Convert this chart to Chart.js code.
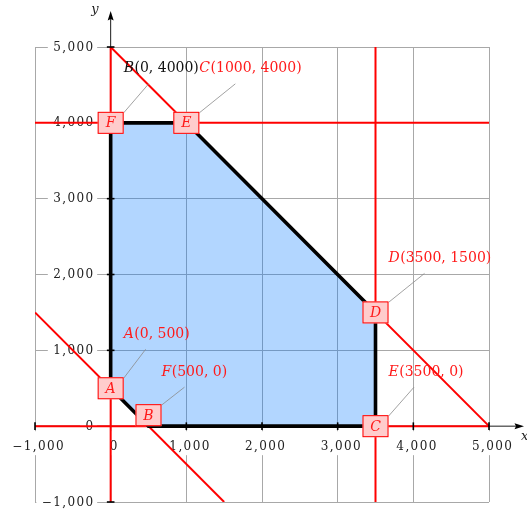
<!DOCTYPE html>
<html><head><meta charset="utf-8">
<script src="https://cdn.jsdelivr.net/npm/chart.js@4/dist/chart.umd.min.js"></script>
<style>html,body{margin:0;padding:0;background:#fff;overflow:hidden}#wrap{width:527px;height:509px;position:relative}</style>
</head><body><div id="wrap"><canvas id="c"></canvas></div>
<script>
// ---- data ----
const xTicks = [-1000, 0, 1000, 2000, 3000, 4000, 5000];
const xTickLabels = ['\u22121,000', '0', '1,000', '2,000', '3,000', '4,000', '5,000'];
const yTicks = [-1000, 0, 1000, 2000, 3000, 4000, 5000];
const yTickLabels = ['\u22121,000', '0', '1,000', '2,000', '3,000', '4,000', '5,000'];

// feasible region (closed polygon)
const regionX = [0, 0, 1000, 3500, 3500, 500, 0];
const regionY = [500, 4000, 4000, 1500, 0, 0, 500];

// constraint lines (end points)
const lineX0X = [0, 0],        lineX0Y = [-1000, 5000];
const lineX3500X = [3500, 3500], lineX3500Y = [-1000, 5000];
const lineY4000X = [-1000, 5000], lineY4000Y = [4000, 4000];
const lineY0X = [-1000, 5000],  lineY0Y = [0, 0];
const lineSum5000X = [0, 5000], lineSum5000Y = [5000, 0];
const lineSum500X = [-1000, 1500], lineSum500Y = [1500, -1000];

// vertex boxes
const vertexLetters = ['F', 'E', 'D', 'C', 'B', 'A'];
const vertexX = [0, 1000, 3500, 3500, 500, 0];
const vertexY = [4000, 4000, 1500, 0, 0, 500];

// annotations attached to the vertices above (same order)
const annotLetters = ['B', 'C', 'D', 'E', 'F', 'A'];
const annotCoords = ['(0, 4000)', '(1000, 4000)', '(3500, 1500)', '(3500, 0)', '(500, 0)', '(0, 500)'];

// ---- styles ----
const annotColors = ['#111111', '#ff1a1a', '#ff1a1a', '#ff1a1a', '#ff1a1a', '#ff1a1a'];
const boxAnchors = ['c', 'c', 'c', 'c', 's', 'c'];
const leaderDx = [38, 49, 49, 38.5, 36, 35];
const RED = '#ff0000';
const SERIF = '"DejaVu Serif", "Liberation Serif", serif';

function pts(xs, ys) { return xs.map((x, i) => ({x: x, y: ys[i]})); }
function redLine(xs, ys) {
  return {data: pts(xs, ys), showLine: true, borderColor: RED, borderWidth: 2,
    pointRadius: 0, fill: false, tension: 0, order: 1};
}

function setSpacing(ctx, v) { try { ctx.letterSpacing = v; } catch (e) {} }

const drawPlugin = {
  id: 'lpDraw',
  beforeDatasetsDraw(chart) {
    const ctx = chart.ctx, xs = chart.scales.x, ys = chart.scales.y;
    const X = v => xs.getPixelForValue(v), Y = v => ys.getPixelForValue(v);
    ctx.save();
    // region fill
    ctx.beginPath();
    regionX.forEach((v, i) => { const px = X(v), py = Y(regionY[i]); i ? ctx.lineTo(px, py) : ctx.moveTo(px, py); });
    ctx.closePath();
    ctx.fillStyle = 'rgba(0,120,255,0.30)';
    ctx.fill();
    // axis lines
    const ax = X(0), ay = Y(0);
    ctx.strokeStyle = '#000'; ctx.lineWidth = 0.9;
    ctx.beginPath(); ctx.moveTo(ax, Y(-1000)); ctx.lineTo(ax, 19); ctx.stroke();
    ctx.beginPath(); ctx.moveTo(X(-1000), ay); ctx.lineTo(518, ay); ctx.stroke();
    // tick labels with white background
    ctx.font = '12px ' + SERIF;
    setSpacing(ctx, '1.4px');
    ctx.textBaseline = 'middle';
    yTicks.forEach((v, i) => {
      const t = yTickLabels[i];
      const w = ctx.measureText(t).width;
      const right = ax - 17.5, py = Y(v);
      ctx.fillStyle = '#fff';
      ctx.fillRect(right - w - 4, py - 8, w + 8, 17);
      ctx.fillStyle = '#222';
      ctx.textAlign = 'right';
      ctx.fillText(t, right + 1.4, py + 0.5);
    });
    xTicks.forEach((v, i) => {
      const t = xTickLabels[i];
      const w = ctx.measureText(t).width;
      const cx = X(v) + 3, py = ay + 20.5;
      ctx.fillStyle = '#fff';
      ctx.fillRect(cx - w / 2 - 3, ay + 5, w + 6, 24);
      ctx.fillStyle = '#222';
      ctx.textAlign = 'center';
      ctx.fillText(t, cx + 0.7, py);
    });
    setSpacing(ctx, '0px');
    ctx.restore();
  },
  afterDatasetsDraw(chart) {
    const ctx = chart.ctx, xs = chart.scales.x, ys = chart.scales.y;
    const X = v => xs.getPixelForValue(v), Y = v => ys.getPixelForValue(v);
    const ax = X(0), ay = Y(0);
    ctx.save();
    // axis ticks
    ctx.strokeStyle = '#000'; ctx.lineWidth = 1.6;
    yTicks.forEach(v => { if (v === 0) return; const py = Y(v); ctx.beginPath(); ctx.moveTo(ax - 3.8, py); ctx.lineTo(ax + 3.8, py); ctx.stroke(); });
    xTicks.forEach(v => { if (v === 0) return; const px = X(v); ctx.beginPath(); ctx.moveTo(px, ay - 3.8); ctx.lineTo(px, ay + 3.8); ctx.stroke(); });
    // arrows
    ctx.fillStyle = '#000';
    ctx.beginPath(); ctx.moveTo(ax, 11); ctx.lineTo(ax - 3, 20.5); ctx.lineTo(ax, 19); ctx.lineTo(ax + 3, 20.5); ctx.closePath(); ctx.fill();
    ctx.beginPath(); ctx.moveTo(524, ay); ctx.lineTo(514.5, ay - 3); ctx.lineTo(516, ay); ctx.lineTo(514.5, ay + 3); ctx.closePath(); ctx.fill();
    // axis names
    ctx.font = 'italic 13px ' + SERIF;
    ctx.textBaseline = 'middle'; ctx.textAlign = 'center';
    ctx.fillStyle = '#222';
    ctx.fillText('y', 95, 10);
    ctx.textAlign = 'left';
    ctx.fillText('x', 521, 437);
    // leaders, boxes, annotations
    vertexLetters.forEach((L, i) => {
      const vx = X(vertexX[i]), vy = Y(vertexY[i]);
      const bw = 26, bh = 22;
      const cy = boxAnchors[i] === 's' ? vy - bh / 2 : vy;
      // leader line
      ctx.strokeStyle = '#8a8a8a'; ctx.lineWidth = 0.8;
      ctx.beginPath(); ctx.moveTo(vx + bw / 2, cy - bh / 2 + 1); ctx.lineTo(vx + leaderDx[i], vy - 39); ctx.stroke();
      // box
      ctx.fillStyle = '#ffcccc';
      ctx.fillRect(vx - bw / 2, cy - bh / 2, bw, bh);
      ctx.strokeStyle = RED; ctx.lineWidth = 1;
      ctx.strokeRect(vx - bw / 2 + 0.5, cy - bh / 2 + 0.5, bw - 1, bh - 1);
      ctx.fillStyle = '#ff1a1a';
      ctx.font = 'italic 14px ' + SERIF;
      ctx.textAlign = 'center'; ctx.textBaseline = 'middle';
      ctx.fillText(L, vx, cy + 1);
      // annotation text
      ctx.fillStyle = annotColors[i];
      ctx.textAlign = 'left';
      const tx = vx + 13, ty = vy - 54;
      ctx.font = 'italic 14px ' + SERIF;
      ctx.fillText(annotLetters[i], tx, ty);
      const w = ctx.measureText(annotLetters[i]).width;
      ctx.font = '14px ' + SERIF;
      ctx.fillText(annotCoords[i], tx + w + 0.5, ty);
    });
    ctx.restore();
  }
};

new Chart(document.getElementById('c'), {
  type: 'scatter',
  data: {datasets: [
    {data: pts(regionX, regionY), showLine: true, borderColor: '#000', borderWidth: 3.6,
      pointRadius: 0, fill: false, tension: 0, borderJoinStyle: 'miter', order: 0},
    redLine(lineX0X, lineX0Y),
    redLine(lineX3500X, lineX3500Y),
    redLine(lineY4000X, lineY4000Y),
    redLine(lineY0X, lineY0Y),
    redLine(lineSum5000X, lineSum5000Y),
    redLine(lineSum500X, lineSum500Y)
  ]},
  options: {
    responsive: true, maintainAspectRatio: false, animation: false, devicePixelRatio: 1,
    events: [],
    layout: {padding: {left: 35, top: 47, right: 38, bottom: 7}},
    plugins: {legend: {display: false}, tooltip: {enabled: false}},
    scales: {
      x: {type: 'linear', min: -1000, max: 5000,
        ticks: {display: false, stepSize: 1000},
        grid: {color: '#a8a8a8', lineWidth: 1, drawTicks: false},
        border: {display: false}},
      y: {type: 'linear', min: -1000, max: 5000,
        ticks: {display: false, stepSize: 1000},
        grid: {color: '#a8a8a8', lineWidth: 1, drawTicks: false},
        border: {display: false}}
    }
  },
  plugins: [drawPlugin]
});
</script>
</body></html>
